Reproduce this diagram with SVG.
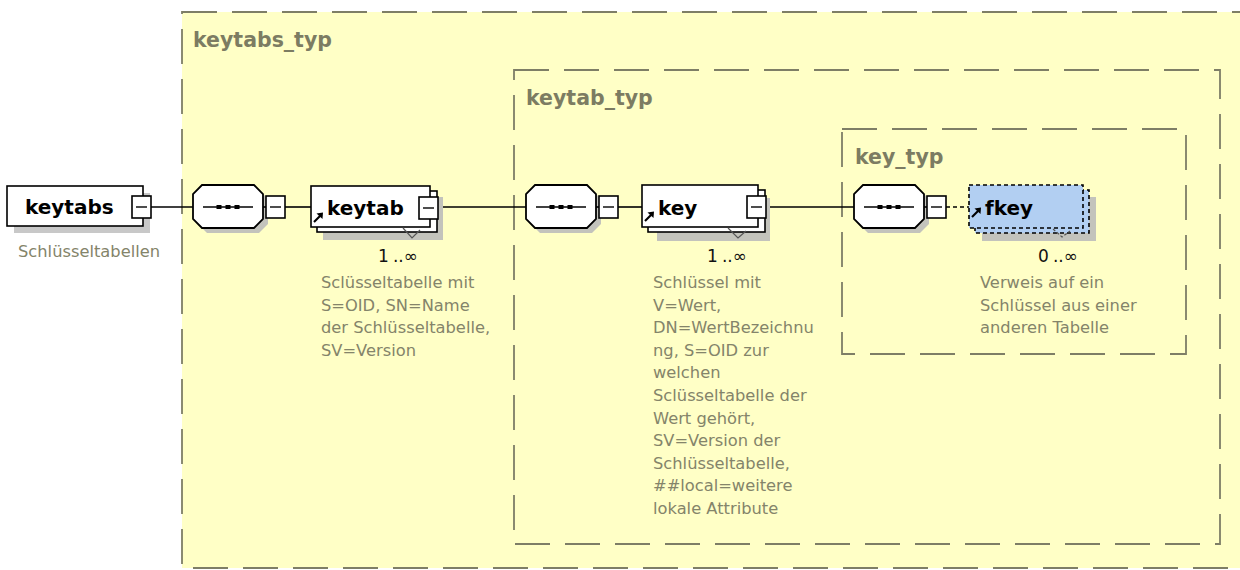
<svg xmlns="http://www.w3.org/2000/svg" xmlns:xlink="http://www.w3.org/1999/xlink" width="1240" height="570" viewBox="0 0 1240 570">
<style>
.cont{fill:#ffffc6;stroke:#7e7e66;stroke-width:1.8;stroke-dasharray:35 15}
.title{font-family:"DejaVu Sans",sans-serif;font-weight:bold;font-size:20.5px;fill:#7c7c62}
.name{font-family:"DejaVu Sans",sans-serif;font-weight:bold;font-size:20px;fill:#000}
.desc{font-family:"DejaVu Sans",sans-serif;font-size:16.3px;fill:#84846a}
.mult{font-family:"DejaVu Sans",sans-serif;font-size:17px;fill:#111;text-anchor:middle}
.box{fill:#fff;stroke:#000;stroke-width:1.6}
.fbox{fill:#b2cff2;stroke:#000;stroke-width:1.6;stroke-dasharray:4 3}
.shadow{fill:#c3c3bc}
.conn{stroke:#000;stroke-width:1.6;fill:none}
.notch{stroke:#555;stroke-width:1.2;fill:none}
</style>
<defs>
<g id="minus">
<rect x="0" y="0" width="19" height="22" fill="#fff" stroke="#000" stroke-width="1.6"/>
<line x1="4" y1="11" x2="15" y2="11" stroke="#000" stroke-width="1.4"/>
</g>
<g id="seq">
<polygon points="14,5 66,5 75,14 75,39 66,48 14,48 5,39 5,14" class="shadow"/>
<polygon points="9,0 61,0 70,9 70,34 61,43 9,43 0,34 0,9" fill="#fff" stroke="#000" stroke-width="1.8"/>
<line x1="10" y1="22" x2="60" y2="22" stroke="#000" stroke-width="1.6"/>
<rect x="23.5" y="20" width="5" height="4" fill="#000"/>
<rect x="32.5" y="20" width="5" height="4" fill="#000"/>
<rect x="41.5" y="20" width="5" height="4" fill="#000"/>
<line x1="70" y1="22" x2="73" y2="22" stroke="#000" stroke-width="1.6"/>
<use xlink:href="#minus" x="73" y="11"/>
</g>
<g id="ref">
<path d="M1,10 L7,4" stroke="#000" stroke-width="2.2"/>
<path d="M3.5,1.5 L10,0.5 L9.5,7 Z" fill="#000"/>
</g>
</defs>

<g id="keytabs_typ">
<rect x="182" y="12" width="1070" height="556" class="cont"/>
<text x="193" y="47" class="title">keytabs_typ</text>
</g>
<g id="keytab_typ">
<rect x="514" y="70" width="706" height="474" class="cont"/>
<text x="526" y="105" class="title">keytab_typ</text>
</g>
<g id="key_typ">
<rect x="842" y="129" width="344" height="225" class="cont"/>
<text x="855" y="164" class="title">key_typ</text>
</g>

<g id="connectors">
<line x1="151" y1="207" x2="193" y2="207" class="conn"/>
<line x1="285" y1="207" x2="311" y2="207" class="conn"/>
<line x1="437" y1="207" x2="526" y2="207" class="conn"/>
<line x1="618" y1="207" x2="642" y2="207" class="conn"/>
<line x1="765" y1="207" x2="854" y2="207" class="conn"/>
<line x1="946" y1="207" x2="969" y2="207" class="conn" stroke-dasharray="4 3"/>
</g>

<g id="keytabs">
<rect x="14" y="193" width="136" height="40" fill="#c8c8c8"/>
<rect x="7" y="186" width="136" height="40" class="box"/>
<use xlink:href="#minus" x="132" y="196"/>
<text x="25" y="214" class="name">keytabs</text>
<text x="18" y="257" class="desc">Schlüsseltabellen</text>
</g>

<g id="seq1"><use xlink:href="#seq" x="193" y="185"/></g>

<g id="keytab">
<rect x="323" y="197" width="120" height="43" class="shadow"/>
<rect x="317" y="191" width="120" height="41" class="box"/>
<rect x="311" y="186" width="119" height="41" class="box"/>
<path d="M403,228 L412,238 L420,230" class="notch"/>
<use xlink:href="#minus" x="419" y="197"/>
<use xlink:href="#ref" x="313" y="212"/>
<text x="327" y="215" class="name">keytab</text>
<text x="398" y="262" class="mult">1<tspan dx="4">..∞</tspan></text>
<text class="desc"><tspan x="321" y="288">Sclüsseltabelle mit</tspan><tspan x="321" y="310.6">S=OID, SN=Name</tspan><tspan x="321" y="333.2">der Schlüsseltabelle,</tspan><tspan x="321" y="355.8">SV=Version</tspan></text>
</g>

<g id="seq2"><use xlink:href="#seq" x="526" y="185"/></g>

<g id="key">
<rect x="657" y="198" width="113" height="43" class="shadow"/>
<rect x="648" y="190" width="117" height="42" class="box"/>
<rect x="642" y="185" width="116" height="42" class="box"/>
<path d="M728,228 L738,238 L746,231" class="notch"/>
<use xlink:href="#minus" x="747" y="196"/>
<use xlink:href="#ref" x="644" y="211"/>
<text x="658" y="215" class="name">key</text>
<text x="727" y="262" class="mult">1<tspan dx="4">..∞</tspan></text>
<text class="desc"><tspan x="653" y="288">Schlüssel mit</tspan><tspan x="653" y="310.6">V=Wert,</tspan><tspan x="653" y="333.2">DN=WertBezeichnu</tspan><tspan x="653" y="355.8">ng, S=OID zur</tspan><tspan x="653" y="378.4">welchen</tspan><tspan x="653" y="401">Sclüsseltabelle der</tspan><tspan x="653" y="423.6">Wert gehört,</tspan><tspan x="653" y="446.2">SV=Version der</tspan><tspan x="653" y="468.8">Schlüsseltabelle,</tspan><tspan x="653" y="491.4">##local=weitere</tspan><tspan x="653" y="514">lokale Attribute</tspan></text>
</g>

<g id="seq3"><use xlink:href="#seq" x="854" y="185"/></g>

<g id="fkey">
<rect x="982" y="197" width="114" height="44" class="shadow"/>
<rect x="975" y="190" width="114" height="43" class="fbox"/>
<rect x="969" y="185" width="114" height="43" class="fbox"/>
<path d="M1053,229 L1062,237 L1070,231" class="notch" stroke-dasharray="3 2"/>
<use xlink:href="#ref" x="971" y="207"/>
<text x="985" y="215" class="name">fkey</text>
<text x="1058" y="262" class="mult">0<tspan dx="4">..∞</tspan></text>
<text class="desc"><tspan x="980" y="288">Verweis auf ein</tspan><tspan x="980" y="310.6">Schlüssel aus einer</tspan><tspan x="980" y="333.2">anderen Tabelle</tspan></text>
</g>
</svg>
